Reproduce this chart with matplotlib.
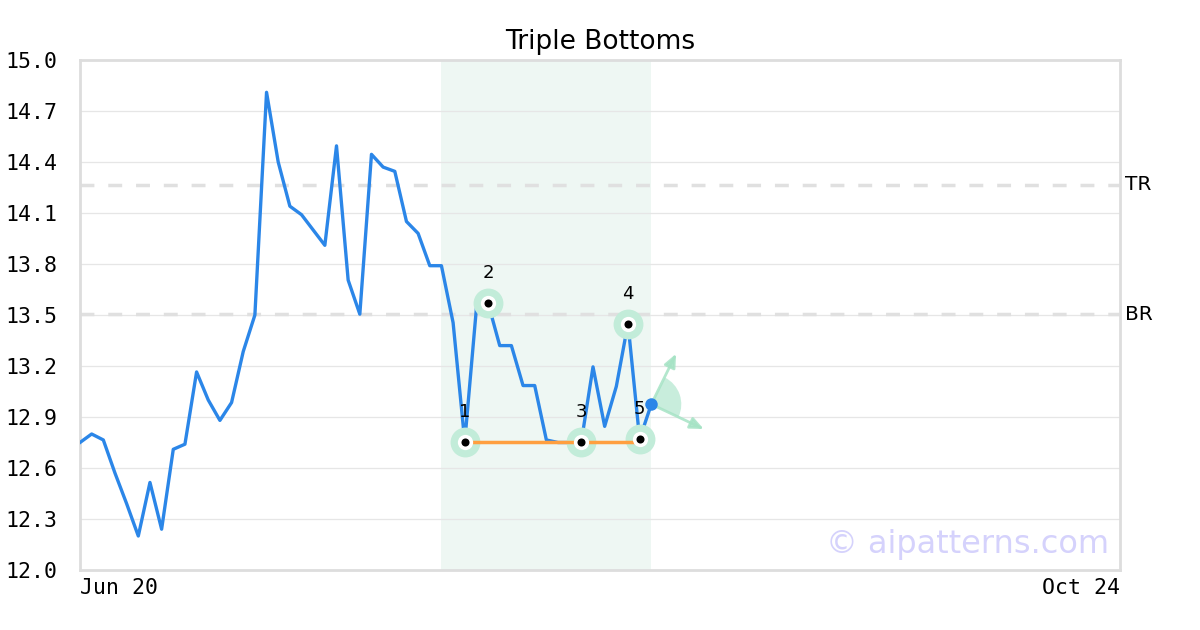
import matplotlib
matplotlib.use("Agg")
import matplotlib.pyplot as plt
from matplotlib.patches import Wedge
from matplotlib.transforms import ScaledTranslation

# closing prices, one per trading day starting Jun 20
prices = [12.75, 12.80, 12.765, 12.57, 12.39, 12.20, 12.515, 12.24, 12.71, 12.74,
          13.165, 13.00, 12.88, 12.985, 13.285, 13.50, 14.81, 14.40, 14.14, 14.09,
          14.00, 13.91, 14.495, 13.705, 13.505, 14.445, 14.37, 14.345, 14.05, 13.98,
          13.79, 13.79, 13.455, 12.755, 13.54, 13.57, 13.32, 13.32, 13.085, 13.085,
          12.765, 12.75, 12.75, 12.755, 13.195, 12.845, 13.08, 13.45, 12.77, 12.975]

# pattern pivot points (index into prices) and labels
pivot_idx = [33, 35, 43, 47, 48]
pivot_labels = ["1", "2", "3", "4", "5"]
bottom_level = 12.755
pattern_span = (31, 49)

tr_level = 14.265
br_level = 13.505

x_max = 89.2
y_ticks = [12.0, 12.3, 12.6, 12.9, 13.2, 13.5, 13.8, 14.1, 14.4, 14.7, 15.0]
x_tick_labels = ["Jun 20", "Oct 24"]

fig = plt.figure(figsize=(12, 6.3), dpi=100)
ax = fig.add_axes([80 / 1200, 60 / 630, 1040 / 1200, 510 / 630])

ax.axvspan(*pattern_span, color="#eef7f3", zorder=0, lw=0)

for yv in y_ticks:
    ax.axhline(yv, color="#e6e6e6", lw=0.9, zorder=0.5)

for lvl, name in [(tr_level, "TR"), (br_level, "BR")]:
    ax.axhline(lvl, color="#e0e0e0", lw=2.5, ls=(0, (4, 4)), zorder=1)
    ax.text(1.005, lvl, name, transform=ax.get_yaxis_transform(), fontsize=14.5,
            va="center", ha="left", color="black")

xs = list(range(len(prices)))
ax.plot(xs, prices, color="#2b86e8", lw=2.4, zorder=3)

px = list(pivot_idx)
py = [prices[i] for i in pivot_idx]
ax.plot([pivot_idx[0], pivot_idx[-1]], [bottom_level, bottom_level],
        color="#ff9f40", lw=2.5, zorder=4)
ax.scatter(px, py, s=21.5 ** 2, color="#c2ecd9", zorder=3.5, lw=0)
ax.scatter(px, py, s=11 ** 2, color="white", zorder=5, lw=0)
ax.scatter(px, py, s=5.8 ** 2, color="black", zorder=6, lw=0)
for x, y, lab in zip(px, py, pivot_labels):
    ax.annotate(lab, (x, y), xytext=(0, 21.5), textcoords="offset points",
                ha="center", va="center", fontsize=13, zorder=7)

# last point with direction fan
last_x, last_y = xs[-1], prices[-1]
ax.scatter([last_x], [last_y], s=9 ** 2, color="#2b86e8", zorder=6, lw=0)
trans = fig.dpi_scale_trans + ScaledTranslation(last_x, last_y, ax.transData)
ax.add_patch(Wedge((0, 0), 0.30, -25, 63, transform=trans, color="#c2ecd9",
                   alpha=0.9, lw=0, zorder=2))
for tip in [(0.26, 0.53), (0.55, -0.26)]:
    ax.annotate("", xy=tip, xycoords=trans, xytext=(0, 0), textcoords=trans,
                arrowprops=dict(arrowstyle="-|>,head_length=0.8,head_width=0.35",
                                color="#a6e3c5", lw=2, alpha=0.85), zorder=2)

ax.set_xlim(0, x_max)
ax.set_ylim(12.0, 15.0)
ax.set_yticks(y_ticks)
ax.set_yticklabels([f"{v:.1f}" for v in y_ticks], fontfamily="DejaVu Sans Mono", fontsize=15.5)
ax.set_xticks([0, x_max])
ax.set_xticklabels(x_tick_labels, fontfamily="DejaVu Sans Mono", fontsize=15.5)
ax.get_xticklabels()[0].set_ha("left")
ax.get_xticklabels()[1].set_ha("right")
ax.tick_params(axis="y", length=0, pad=16)
ax.tick_params(axis="x", length=0, pad=6)
for sp in ax.spines.values():
    sp.set_color("#dddddd")
    sp.set_linewidth(2)

ax.set_title("Triple Bottoms", fontsize=19, pad=8)
ax.text(0.99, 0.05, "\u00a9 aipatterns.com", transform=ax.transAxes, ha="right",
        va="center", fontsize=23, color="#d5d2fc", zorder=1)

fig.savefig("out.png", dpi=100)
